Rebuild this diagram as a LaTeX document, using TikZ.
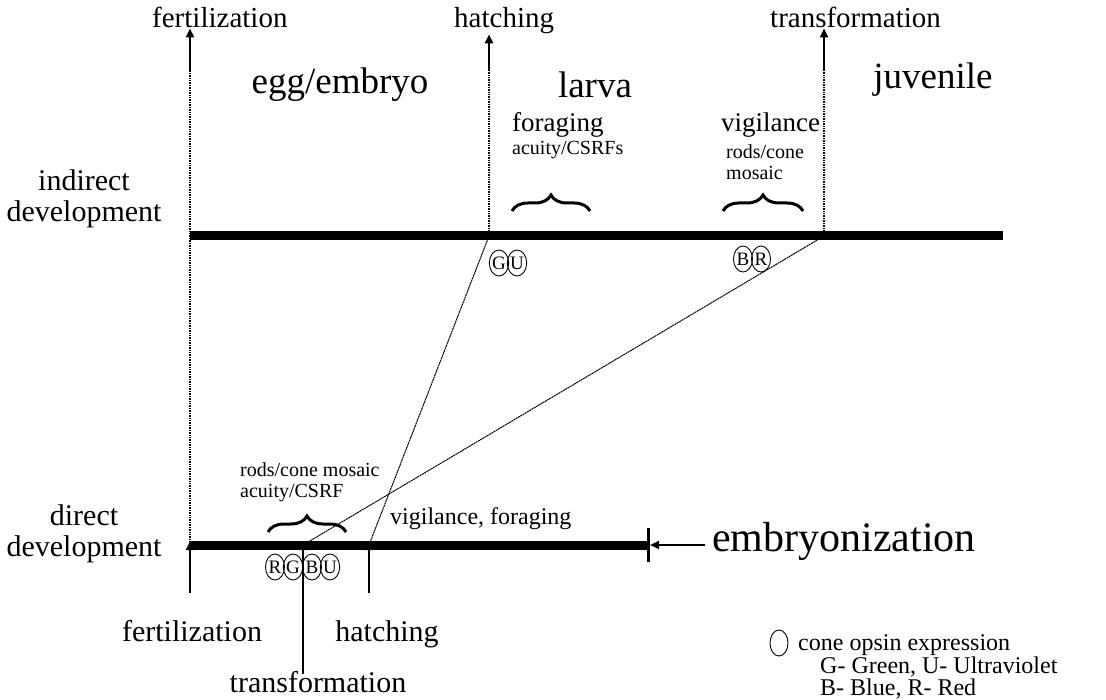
\documentclass[tikz,border=0pt]{standalone}
\usepackage{fontspec}
\setmainfont{Liberation Serif}
\usetikzlibrary{arrows.meta,decorations.pathreplacing,shapes.geometric}
\begin{document}
\begin{tikzpicture}[x=1pt,y=-1pt,
  lbl/.style={inner sep=0pt, font=\fontsize{29}{30}\selectfont},
  side/.style={inner sep=0pt, font=\fontsize{30}{31}\selectfont},
  big/.style={inner sep=0pt, font=\fontsize{37}{38}\selectfont},
  med/.style={inner sep=0pt, font=\fontsize{27}{28}\selectfont},
  sml/.style={inner sep=0pt, font=\fontsize{20}{21}\selectfont},
  leg/.style={inner sep=0pt, font=\fontsize{24}{25}\selectfont},
  timeline/.style={line width=9pt},
  guide/.style={line width=1.1pt, dash pattern=on 1pt off 0.7pt},
  diag/.style={line width=1pt, dash pattern=on 2pt off 0.6pt},
  arr/.style={line width=2.2pt, -{Triangle[length=9pt,width=8pt]}},
  opsin/.style={ellipse, draw, line width=0.9pt, minimum width=19pt, minimum height=26pt, inner sep=0pt, font=\fontsize{19}{19}\selectfont},
  brc/.style={decorate, decoration={brace, amplitude=16pt}, line width=3pt}]
\useasboundingbox (0,0) rectangle (1106,700);
% key points
\coordinate (fI) at (190,236);
\coordinate (hI) at (489,236);
\coordinate (tI) at (824,236);
\coordinate (iEnd) at (1003,236);
\coordinate (fD) at (190,545);
\coordinate (tD) at (303,545);
\coordinate (hD) at (369,545);
\coordinate (dEnd) at (648,545);
% top labels
\node[lbl, anchor=base west] (fertT) at (152,28) {fertilization};
\node[lbl, anchor=base west] (hatchT) at (454,28) {hatching};
\node[lbl, anchor=base west] (transT) at (770,28) {transformation};
\coordinate (fA) at (190,70);
\coordinate (hA) at (489,70);
\coordinate (tA) at (824,70);
\draw[guide] (fD) -- (fA);
\draw[guide] (hI) -- (hA);
\draw[guide] (tI) -- (tA);
\draw[arr] (fA) -- (fA |- fertT.south);
\draw[arr] (hA) -- (hA |- hatchT.south);
\draw[arr] (tA) -- (tA |- transT.south);
% stage names
\node[big] (egg) at (340,85) {egg/embryo};
\node[big] (larva) at (595,85) {larva};
\node[big] (juv) at (933,80) {juvenile};
% indirect development
\node[side, align=center] (indir) at (84,199) {indirect\\development};
\draw[timeline] (fI) -- (iEnd);
\node[med, anchor=west] (forag) at (512,125) {foraging};
\node[sml, anchor=west] (acuity) at (512,150) {acuity/CSRFs};
\draw[brc] (512,211) coordinate (b1a) -- (590,211) coordinate (b1b);
\node[med, anchor=west] (vigil) at (721,125) {vigilance};
\node[sml, anchor=west, align=left] (rods) at (726,162) {rods/cone\\mosaic};
\draw[brc] (723,211) coordinate (b2a) -- (803,211) coordinate (b2b);
\node[opsin] (G1) at (499,263) {G};
\node[opsin] (U1) at (517,263) {U};
\node[opsin] (B1) at (743,259) {B};
\node[opsin] (R1) at (761,259) {R};
% diagonals
\draw[diag] (hI) -- (hD);
\draw[diag] (tI) -- (tD);
% direct development
\node[side, align=center] (dir) at (84,534) {direct\\development};
\draw[timeline] (fD) -- (dEnd);
\draw[line width=3pt] (648,528) coordinate (tk1) -- (648,562) coordinate (tk2);
\coordinate (eA) at (705,545);
\draw[arr] (eA) -- (650,545);
\node[inner sep=0pt, font=\fontsize{42}{43}\selectfont, anchor=west] (embr) at (712,541) {embryonization};
\node[sml, anchor=west, align=left] (rcm) at (240,482) {rods/cone mosaic\\acuity/CSRF};
\draw[brc] (268,532) coordinate (b3a) -- (346,532) coordinate (b3b);
\node[leg, anchor=west] (vf) at (390,519) {vigilance, foraging};
\node[opsin] (R2) at (275,567) {R};
\node[opsin] (G2) at (293,567) {G};
\node[opsin] (B2) at (312,567) {B};
\node[opsin] (U2) at (330,567) {U};
% bottom labels and arrows
\node[side, anchor=base] (fertB) at (192,641) {fertilization};
\node[side, anchor=base] (hatchB) at (387,641) {hatching};
\node[side, anchor=base] (transB) at (318,692) {transformation};
\coordinate (fB) at (190,593);
\coordinate (hB) at (369,593);
\coordinate (tB) at (303,674);
\draw[arr] (fB) -- ([yshift=4pt]fD);
\draw[arr] (hB) -- ([yshift=4pt]hD);
\draw[arr, line width=1.8pt] (tB) -- ([yshift=4pt]tD);
% legend
\node[ellipse, draw, line width=0.9pt, minimum width=18pt, minimum height=26pt, inner sep=0pt] (legE) at (779,643) {};
\node[leg, anchor=base west] (leg1) at (798,650) {cone opsin expression};
\node[leg, anchor=base west] (leg2) at (820,673) {G- Green, U- Ultraviolet};
\node[leg, anchor=base west] (leg3) at (820,695) {B- Blue, R- Red};
\end{tikzpicture}
\end{document}
